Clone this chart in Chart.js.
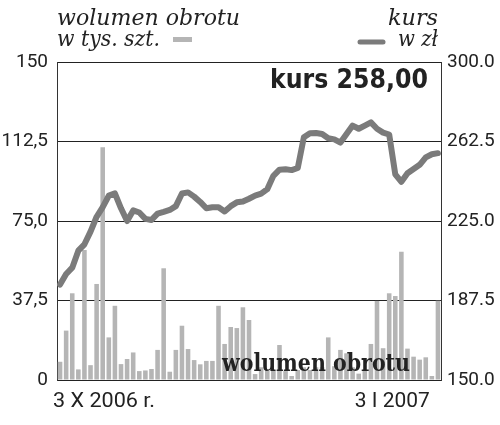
<!DOCTYPE html>
<html>
<head>
<meta charset="utf-8">
<script src="https://cdn.jsdelivr.net/npm/chart.js@4/dist/chart.umd.min.js"></script>
<style>
  body { margin: 0; background: #fff; }
  canvas { display: block; }
</style>
</head>
<body>
<canvas id="kurs" width="500" height="425"></canvas>
<script>
  // wolumen obrotu (tys. szt.) - one bar per session
  let volume = [8.6, 23.3, 40.9, 5, 61.3, 7, 45.3, 109.8, 20.1, 35,
    7.5, 9.9, 13, 4.2, 4.5, 5.2, 14.2, 52.7, 3.9, 14.2,
    25.6, 14.6, 9.4, 7.4, 9, 9, 35, 17, 25, 24.5,
    34.3, 28.3, 2.8, 6, 4.4, 4.7, 16.5, 4.2, 1.9, 4.7,
    6, 4.7, 6, 6, 20.1, 6.5, 14.2, 12.6, 6, 3,
    4.4, 17, 37.3, 15, 40.9, 39.6, 60.5, 14.8, 11, 9.6,
    10.7, 1.9, 37.4];

  // kurs w zł
  let price = [195, 200, 203, 211, 214, 220, 227, 231.5, 237, 238,
    231, 225, 230, 229, 226, 225.5, 228.5, 229.3, 230.2, 232,
    238, 238.5, 236.5, 234, 231, 231.5, 231.5, 229.5, 232, 233.8,
    234.2, 235.5, 237, 237.9, 240, 246.3, 249.2, 249.4, 249, 250,
    264.5, 266.4, 266.5, 266, 264, 263.5, 262, 266, 270, 268.5,
    270, 271.5, 268.5, 266.7, 265.8, 247, 243.5, 247.5, 249.5, 251.5,
    255, 256.5, 257];

  let sessions = volume.map((v, i) => i);
  let volTicks = ['0', '37,5', '75,0', '112,5', '150'];
  let priceTicks = ['150.0', '187.5', '225.0', '262.5', '300.0'];
  let dateLabels = [[0, '3 X 2006 r.'], [55, '3 I 2007']];
  let lastPrice = 'kurs 258,00';

  function fitText(ctx, txt, x, y, w, align) {
    let m = ctx.measureText(txt).width;
    ctx.save();
    ctx.translate(x, y);
    ctx.scale(w / m, 1);
    ctx.textAlign = align;
    ctx.fillText(txt, 0, 0);
    ctx.restore();
  }

  let texts = {
    id: 'texts',
    afterDatasetsDraw(chart) {
      let c = chart.ctx;
      let a = chart.chartArea;
      c.save();
      c.fillStyle = '#222';
      c.textBaseline = 'alphabetic';
      c.font = 'bold 26px "DejaVu Sans"';
      fitText(c, lastPrice, a.right - 13, 87.5, 158, 'right');
      c.font = 'bold 24px "DejaVu Serif"';
      fitText(c, 'wolumen obrotu', 222, a.bottom - 9, 188, 'left');
      c.restore();
    },
    afterDraw(chart) {
      let c = chart.ctx;
      let x = chart.scales.x;
      c.save();
      c.fillStyle = '#222';
      c.textBaseline = 'alphabetic';
      c.font = 'italic 22px "DejaVu Serif"';
      fitText(c, 'wolumen obrotu', 57, 25, 183, 'left');
      fitText(c, 'w tys. szt.', 57, 46, 103, 'left');
      fitText(c, 'kurs', 438, 25, 50, 'right');
      fitText(c, 'w zł', 438, 46, 40, 'right');
      // legend swatches
      c.fillStyle = '#b5b5b5';
      c.fillRect(173, 37, 19, 5);
      c.strokeStyle = '#7b7b7b';
      c.lineWidth = 5;
      c.lineCap = 'round';
      c.beginPath();
      c.moveTo(360, 42);
      c.lineTo(383, 42);
      c.stroke();
      // dates under the axis
      c.fillStyle = '#222';
      c.font = '20px Roboto';
      dateLabels.forEach(([i, txt]) => {
        if (i === 0) fitText(c, txt, chart.chartArea.left - 4, 407, 102, 'left');
        else fitText(c, txt, x.getPixelForValue(i) - 3, 407, 75, 'center');
      });
      c.restore();
    }
  };

  let ctx = document.getElementById('kurs').getContext('2d');
  let chart = new Chart(ctx, {
    data: {
      labels: sessions,
      datasets: [{
        type: 'line',
        label: 'kurs',
        data: price,
        yAxisID: 'yPrice',
        borderColor: '#7b7b7b',
        borderWidth: 6,
        pointRadius: 0,
        tension: 0,
        borderJoinStyle: 'round',
        borderCapStyle: 'round',
        order: 0
      }, {
        type: 'bar',
        label: 'wolumen',
        data: volume,
        yAxisID: 'yVol',
        backgroundColor: '#b5b5b5',
        barPercentage: 0.75,
        categoryPercentage: 1,
        order: 1
      }]
    },
    options: {
      responsive: false,
      animation: false,
      layout: { padding: { top: 62, bottom: 45, left: 0, right: 0 } },
      plugins: { legend: { display: false }, tooltip: { enabled: false } },
      scales: {
        x: { display: false, offset: true },
        yVol: {
          position: 'left',
          min: 0,
          max: 150,
          ticks: {
            stepSize: 37.5,
            padding: 9,
            color: '#222',
            font: { family: 'Roboto', size: 19 },
            callback: (v, i) => volTicks[i]
          },
          grid: { color: '#222', lineWidth: 1, drawTicks: false },
          border: { color: '#333', width: 1 },
          afterFit(s) { s.width = 57; }
        },
        yPrice: {
          position: 'right',
          min: 150,
          max: 300,
          ticks: {
            stepSize: 37.5,
            padding: 6,
            color: '#222',
            font: { family: 'Roboto', size: 19 },
            callback: (v, i) => priceTicks[i]
          },
          grid: { display: false, drawTicks: false },
          border: { color: '#333', width: 1 },
          afterFit(s) { s.width = 59; }
        }
      }
    },
    plugins: [texts]
  });
</script>
</body>
</html>
